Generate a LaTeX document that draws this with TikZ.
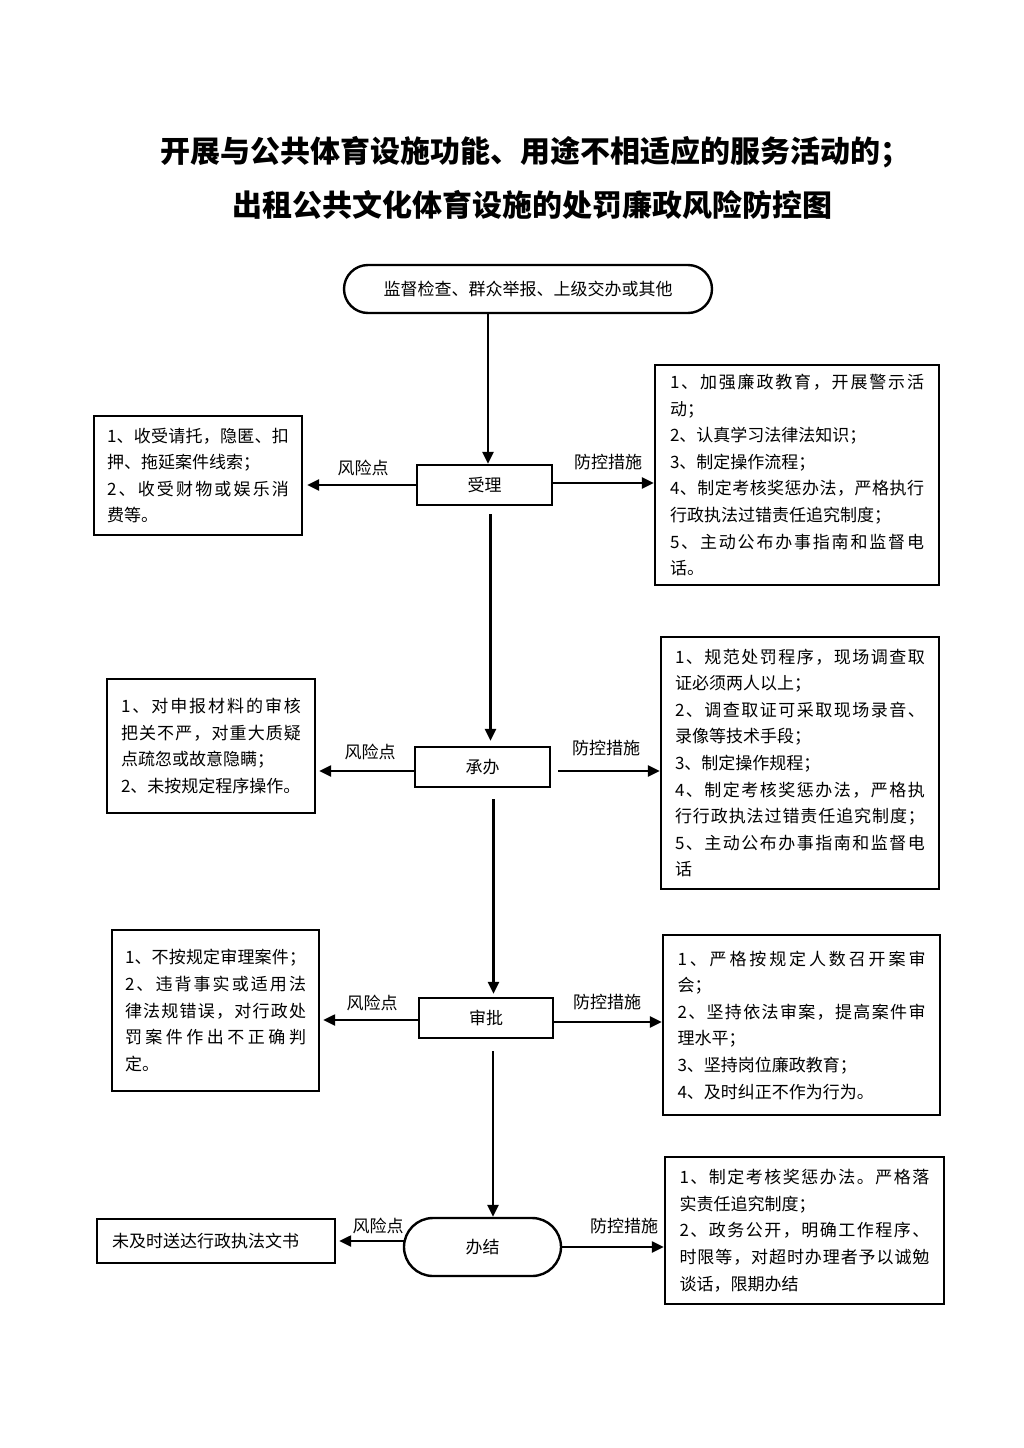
\documentclass[tikz,border=0pt]{standalone}
\usepackage{fontspec}
\setmainfont{Noto Sans CJK SC}
\usetikzlibrary{arrows.meta}
\def\jlend{jlend@marker}
\def\J#1{\makebox[\hsize][s]{\jlA#1\jlend}}
\def\jlA#1{#1\jlB}
\def\jlB#1{\ifx\jlend#1\else\hfill#1\expandafter\jlB\fi}
\newcommand\bodyfont{\fontsize{17pt}{26.6pt}\selectfont\parindent=0pt}
\begin{document}
\begin{tikzpicture}[x=1pt,y=-1pt,
  box/.style={draw, line width=2.4pt, inner sep=0pt, align=left, font=\bodyfont},
  stepbox/.style={draw, line width=2.4pt, inner sep=0pt, align=center, font=\bodyfont},
  lbl/.style={font=\bodyfont, inner sep=0pt},
  arr/.style={line width=2.4pt, -{Triangle[length=12pt,width=11pt]}}]
\useasboundingbox (0,0) rectangle (1024,1448);
% title
\node[font=\fontsize{30pt}{36pt}\selectfont\bfseries, inner sep=0pt] (title1) at (535,152) {开展与公共体育设施功能、用途不相适应的服务活动的；};
\node[font=\fontsize{30pt}{36pt}\selectfont\bfseries, inner sep=0pt] (title2) at (532,205) {出租公共文化体育设施的处罚廉政风险防控图};
% main flow
\node[stepbox, minimum width=368pt, minimum height=48pt, rounded corners=24pt] (src) at (528,289) {监督检查、群众举报、上级交办或其他};
\node[stepbox, minimum width=135pt, minimum height=40pt] (sl) at (484.5,485) {受理};
\node[stepbox, minimum width=135pt, minimum height=40pt] (cb) at (482.5,767) {承办};
\node[stepbox, minimum width=134pt, minimum height=40pt] (sp) at (486,1018) {审批};
\node[stepbox, minimum width=157pt, minimum height=58pt, rounded corners=29pt] (bj) at (482.5,1247) {办结};
% risk boxes
\node[box, minimum width=208pt, minimum height=119pt, text width=182pt] (r1) at (198,475.5)
 {\J{1、收受请托，隐匿、扣}\\押、拖延案件线索；\\\J{2、收受财物或娱乐消}\\费等。};
\node[box, minimum width=208pt, minimum height=134pt, text width=180pt] (r2) at (211,746)
 {\J{1、对申报材料的审核}\\\J{把关不严，对重大质疑}\\点疏忽或故意隐瞒；\\2、未按规定程序操作。};
\node[box, minimum width=207pt, minimum height=161pt, text width=181pt] (r3) at (215.5,1010.5)
 {\J{1、不按规定审理案件；}\\\J{2、违背事实或适用法}\\\J{律法规错误，对行政处}\\\J{罚案件作出不正确判}\\定。};
\node[box, minimum width=238pt, minimum height=44pt, text width=208pt] (r4) at (216,1241)
 {未及时送达行政执法文书};
% control boxes
\node[box, minimum width=284pt, minimum height=220pt, text width=254pt] (c1) at (797,475)
 {\J{1、加强廉政教育，开展警示活}\\动；\\2、认真学习法律法知识；\\3、制定操作流程；\\\J{4、制定考核奖惩办法，严格执行}\\行政执法过错责任追究制度；\\\J{5、主动公布办事指南和监督电}\\话。};
\node[box, minimum width=278pt, minimum height=252pt, text width=250pt] (c2) at (800,763)
 {\J{1、规范处罚程序，现场调查取}\\证必须两人以上；\\\J{2、调查取证可采取现场录音、}\\录像等技术手段；\\3、制定操作规程；\\\J{4、制定考核奖惩办法，严格执}\\\J{行行政执法过错责任追究制度；}\\\J{5、主动公布办事指南和监督电}\\话};
\node[box, minimum width=277pt, minimum height=180pt, text width=248pt] (c3) at (801.5,1025)
 {\J{1、严格按规定人数召开案审}\\会；\\\J{2、坚持依法审案，提高案件审}\\理水平；\\3、坚持岗位廉政教育；\\4、及时纠正不作为行为。};
\node[box, minimum width=279pt, minimum height=147pt, text width=250pt] (c4) at (804.5,1230.5)
 {\J{1、制定考核奖惩办法。严格落}\\实责任追究制度；\\\J{2、政务公开，明确工作程序、}\\\J{时限等，对超时办理者予以诚勉}\\谈话，限期办结};
% labels
\node[lbl] (k1) at (363,468) {风险点};
\node[lbl] (f1) at (608,462) {防控措施};
\node[lbl] (k2) at (370,752) {风险点};
\node[lbl] (f2) at (606,748) {防控措施};
\node[lbl] (k3) at (372,1003) {风险点};
\node[lbl] (f3) at (607,1002) {防控措施};
\node[lbl] (k4) at (378,1226) {风险点};
\node[lbl] (f4) at (624,1226) {防控措施};
% vertical connectors
\coordinate (t1) at ([xshift=3.5pt]sl.north);
\draw[arr] (src.south -| t1) -- (t1);
\coordinate (t2) at ([xshift=8pt]cb.north);
\coordinate (s2) at ([yshift=-8pt]sl.south);
\draw[arr, shorten >=5pt] (s2 -| t2) -- (t2);
\coordinate (t3) at ([xshift=7.5pt]sp.north);
\coordinate (s3) at ([yshift=-11pt]cb.south);
\draw[arr, shorten >=3pt] (s3 -| t3) -- (t3);
\coordinate (t4) at ([xshift=10.5pt]bj.north);
\coordinate (s4) at ([yshift=-12pt]sp.south);
\draw[arr] (s4 -| t4) -- (t4);
% horizontal connectors
\draw[arr, shorten >=4pt] (sl.west) -- (sl.west -| r1.east);
\draw[arr] ([yshift=2pt]sl.east) -- ([yshift=2pt]sl.east -| c1.west);
\draw[arr, shorten >=3pt] ([yshift=-4pt]cb.west) -- ([yshift=-4pt]cb.west -| r2.east);
\draw[arr, shorten <=7pt] ([yshift=-4pt]cb.east) -- ([yshift=-4pt]cb.east -| c2.west);
\draw[arr, shorten >=3pt] ([yshift=-2pt]sp.west) -- ([yshift=-2pt]sp.west -| r3.east);
\draw[arr] ([yshift=-4pt]sp.east) -- ([yshift=-4pt]sp.east -| c3.west);
\coordinate (w4) at ([yshift=6pt,xshift=1pt]bj.west);
\draw[arr, shorten >=3pt] (w4) -- (w4 -| r4.east);
\draw[arr] (bj.east) -- (bj.east -| c4.west);
\end{tikzpicture}
\end{document}
